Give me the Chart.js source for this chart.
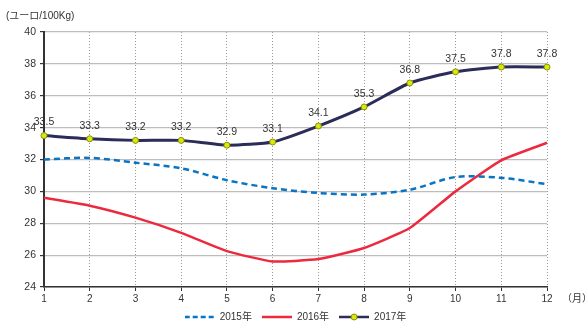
<!DOCTYPE html>
<html>
<head>
<meta charset="utf-8">
<script src="https://cdn.jsdelivr.net/npm/chart.js@4"></script>
<style>
body { margin: 0; background: #fff; }
#wrap { width: 585px; height: 323px; }
</style>
</head>
<body>
<div id="wrap"><canvas id="c"></canvas></div>
<script>
const months = ["1", "2", "3", "4", "5", "6", "7", "8", "9", "10", "11", "12"];
const y2015 = [32.0, 32.1, 31.8, 31.45, 30.7, 30.2, 29.9, 29.8, 30.1, 30.9, 30.85, 30.45];
const y2016 = [29.6, 29.1, 28.35, 27.4, 26.25, 25.6, 25.75, 26.45, 27.7, 30.0, 31.95, 33.05];
const y2017 = [33.5, 33.3, 33.2, 33.2, 32.9, 33.1, 34.1, 35.3, 36.8, 37.5, 37.8, 37.8];
const yTicks = [24, 26, 28, 30, 32, 34, 36, 38, 40];

const FONT = "'Liberation Sans', 'Noto Sans CJK JP', sans-serif";
const TXT = "#333";

// small canvases used as legend symbols
function legendIcon(color, dash, dot) {
    const c = document.createElement("canvas");
    c.width = 30; c.height = 8;
    const g = c.getContext("2d");
    g.strokeStyle = color;
    g.lineWidth = 2.5;
    g.setLineDash(dash);
    g.beginPath(); g.moveTo(0, 4); g.lineTo(30, 4); g.stroke();
    if (dot) {
        g.setLineDash([]);
        g.fillStyle = "#d7e812";
        g.strokeStyle = "#8a9200";
        g.lineWidth = 1;
        g.beginPath(); g.arc(15, 4, 3, 0, Math.PI * 2); g.fill(); g.stroke();
    }
    return c;
}
const icons = [
    legendIcon("#0a74c4", [5, 3], false),
    legendIcon("#ec2a3f", [], false),
    legendIcon("#2b2c58", [], true)
];

const extras = {
    id: "extras",
    afterDatasetsDraw(chart) {
        const ctx = chart.ctx;
        ctx.save();
        ctx.fillStyle = TXT;
        ctx.font = "10.5px " + FONT;
        ctx.textAlign = "center";
        ctx.textBaseline = "middle";
        chart.getDatasetMeta(2).data.forEach((pt, i) => {
            ctx.fillText(y2017[i].toFixed(1), pt.x, pt.y - 13);
        });
        ctx.font = "10px " + FONT;
        ctx.textAlign = "left";
        ctx.fillText("(ユーロ/100Kg)", 6, 16);
        ctx.fillText("（月）", 562, chart.chartArea.bottom + 12);
        ctx.restore();
    }
};

new Chart(document.getElementById("c"), {
    type: "line",
    data: {
        labels: months,
        datasets: [{
            label: "2015年",
            data: y2015,
            borderColor: "#0a74c4",
            borderWidth: 2.5,
            borderDash: [6, 4],
            pointRadius: 0,
            tension: 0.3
        }, {
            label: "2016年",
            data: y2016,
            borderColor: "#ec2a3f",
            borderWidth: 2.5,
            pointRadius: 0,
            tension: 0.15
        }, {
            label: "2017年",
            data: y2017,
            borderColor: "#2b2c58",
            borderWidth: 3,
            pointRadius: 3,
            pointBackgroundColor: "#d7e812",
            pointBorderColor: "#8a9200",
            pointBorderWidth: 1,
            tension: 0.2
        }]
    },
    options: {
        responsive: true,
        maintainAspectRatio: false,
        animation: false,
        layout: { padding: { top: 32, right: 38, left: 0, bottom: -9 } },
        plugins: {
            tooltip: { enabled: false },
            legend: {
                position: "bottom",
                fullSize: false,
                labels: {
                    usePointStyle: true,
                    pointStyleWidth: 30,
                    padding: 10,
                    color: TXT,
                    font: { size: 10, family: FONT },
                    generateLabels(chart) {
                        const items = Chart.defaults.plugins.legend.labels.generateLabels(chart);
                        items.forEach((it, i) => { it.pointStyle = icons[i]; });
                        return items;
                    }
                }
            }
        },
        scales: {
            x: {
                offset: false,
                grid: { color: "#999", lineWidth: 1, tickLength: 4, tickColor: "#333", offset: false },
                border: { color: "#333", width: 1.5, dash: [1, 2] },
                ticks: { color: TXT, font: { size: 10, family: FONT }, maxRotation: 0, padding: 2 },
                afterFit(s) { s.height = 15; }
            },
            y: {
                min: 24,
                max: 40,
                afterBuildTicks(s) { s.ticks = yTicks.map(v => ({ value: v })); },
                grid: { color: "#bdbdbd", lineWidth: 1.2, tickLength: 4, tickColor: "#333" },
                border: { color: "#333", width: 2 },
                ticks: { color: TXT, font: { size: 10.5, family: FONT }, padding: 4 },
                afterFit(s) { s.width = 44; }
            }
        }
    },
    plugins: [extras]
});
</script>
</body>
</html>
